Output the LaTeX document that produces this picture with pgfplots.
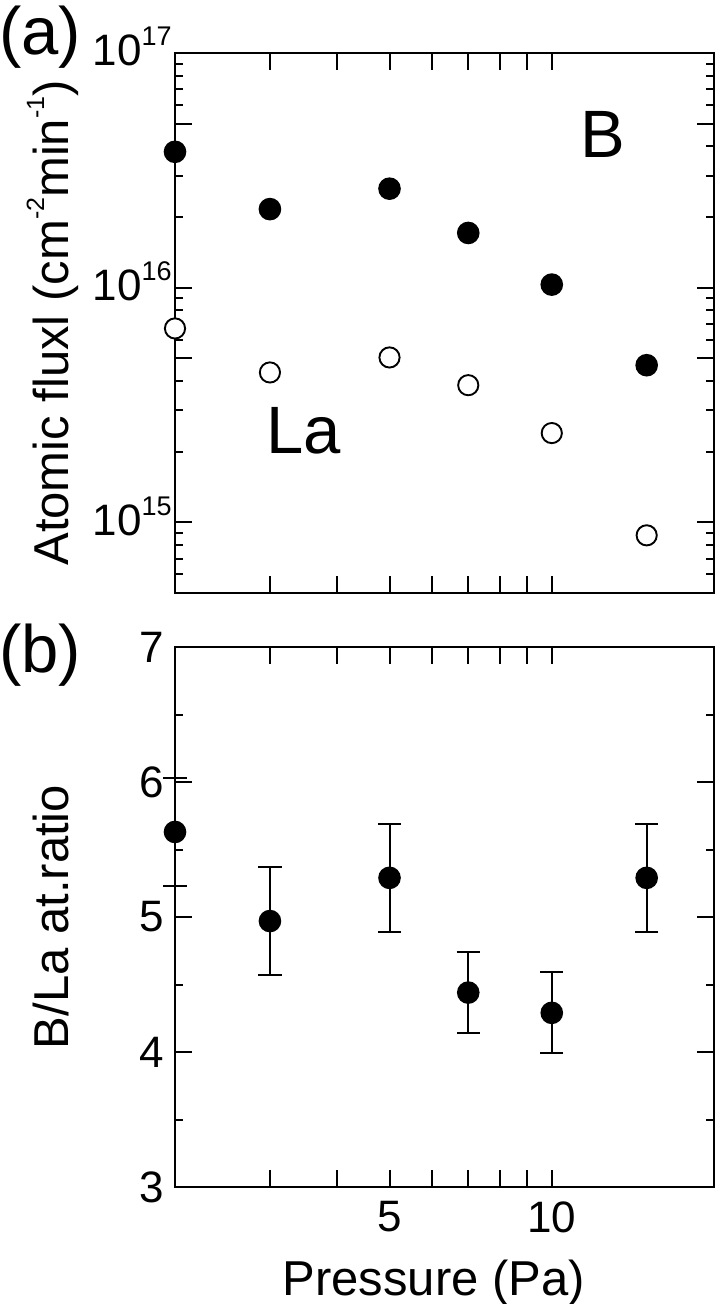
\documentclass[border=0pt]{standalone}
\usepackage{fontspec}
\setmainfont{Liberation Sans}
\usepackage{pgfplots}
\usepackage{pgfplotstable}
\pgfplotsset{compat=1.18}

\pgfplotstableread{
x y
2 3.79e16
3 2.16e16
5 2.64e16
7 1.71e16
10 1.03e16
15 4.67e15
}\Bdata
\pgfplotstableread{
x y
2 6.7e15
3 4.35e15
5 5.04e15
7 3.84e15
10 2.40e15
15 8.8e14
}\Ladata
\pgfplotstableread{
x y ey
2 5.63 0.40
3 4.97 0.40
5 5.29 0.40
7 4.44 0.30
10 4.29 0.30
15 5.29 0.40
}\ratiodata

\newcommand\ex[1]{\raisebox{10pt}{\fontsize{13.5}{13.5}\selectfont #1}}
\newcommand\sx[1]{\raisebox{12pt}{\fontsize{12.5}{12.5}\selectfont #1}}

\pgfplotsset{
  panel/.style={
    scale only axis, width=269.5pt, height=270pt,
    xmin=2, xmax=20,
    xtick={3,4,5,6,7,8,9,10},
    minor xtick={},
    xtick pos=both, ytick pos=both,
    tick align=inside,
    axis line style={line width=1.35pt},
    tick style={line width=1pt, black},
    major tick length=8.5pt, minor tick length=4pt,
    clip=false,
    tick label style={font=\fontsize{22}{26}\selectfont},
    every axis y label/.style={at={(axis description cs:-0.1985,0.5)}, rotate=90, anchor=base,
      font=\fontsize{24.5}{29}\selectfont},
    every axis x label/.style={at={(axis description cs:0.48,0)}, anchor=base, yshift=-54pt,
      font=\fontsize{24.5}{29}\selectfont},
    xticklabel style={inner ysep=7pt},
  },
}

\begin{document}
\begin{tikzpicture}
\useasboundingbox (-87.5pt,-58.5pt) rectangle (271.5pt,593.5pt);
% top panel
\begin{axis}[xmode=log, ymode=log, panel, at={(0,297pt)}, anchor=south west,
  ymin=5e14, ymax=1e17,
  ytick={1e15,1e16,1e17}, yticklabels={10\ex{15},10\ex{16},10\ex{17}},
  minor ytick={6e14,7e14,8e14,9e14,2e15,3e15,4e15,6e15,7e15,8e15,9e15,2e16,3e16,4e16,6e16,7e16,8e16,9e16},
  extra y ticks={5e15,5e16}, extra y tick labels={},
  xticklabels={},
  yticklabel style={anchor=base east, yshift=-6.5pt, inner xsep=1.5pt},
  ylabel={Atomic fluxl (cm\sx{-2}min\sx{-1})},
]
\addplot[only marks, mark=*, mark size=5.2pt, mark options={fill=black, draw=black, line width=0.9pt}] table[x=x,y=y] {\Bdata};
\addplot[only marks, mark=*, mark size=5.05pt, mark options={fill=white, draw=black, line width=0.95pt}] table[x=x,y=y] {\Ladata};
\node[anchor=base, font=\fontsize{33.5}{36}\selectfont] at (axis description cs:0.794,0.807) {B};
\node[anchor=base, font=\fontsize{33.5}{36}\selectfont] at (axis description cs:0.239,0.259) {La};
\node[anchor=center, font=\fontsize{33.5}{36}\selectfont] at (axis description cs:-0.2505,1.0296) {(a)};
\end{axis}
% bottom panel
\begin{axis}[xmode=log, panel, at={(0,0)}, anchor=south west,
  ymin=3, ymax=7,
  ytick={3,4,5,6,7}, yticklabels={3,4,5,6,7},
  minor ytick={3.5,4.5,5.5,6.5},
  xticklabels={,,5,,,,,10},
  yticklabel style={inner xsep=5.5pt},
  ylabel={B/La at.ratio},
  xlabel={Pressure (Pa)},
]
\addplot[only marks, mark=*, mark size=5.2pt, mark options={fill=black, draw=black, line width=0.9pt},
  error bars/.cd, y dir=both, y explicit,
  error bar style={line width=1pt, black},
  error mark options={rotate=90, mark size=5.8pt, line width=1pt, black}]
  table[x=x, y=y, y error=ey] {\ratiodata};
\node[anchor=center, font=\fontsize{33.5}{36}\selectfont] at (axis description cs:-0.2505,0.984) {(b)};
\end{axis}
\end{tikzpicture}
\end{document}
